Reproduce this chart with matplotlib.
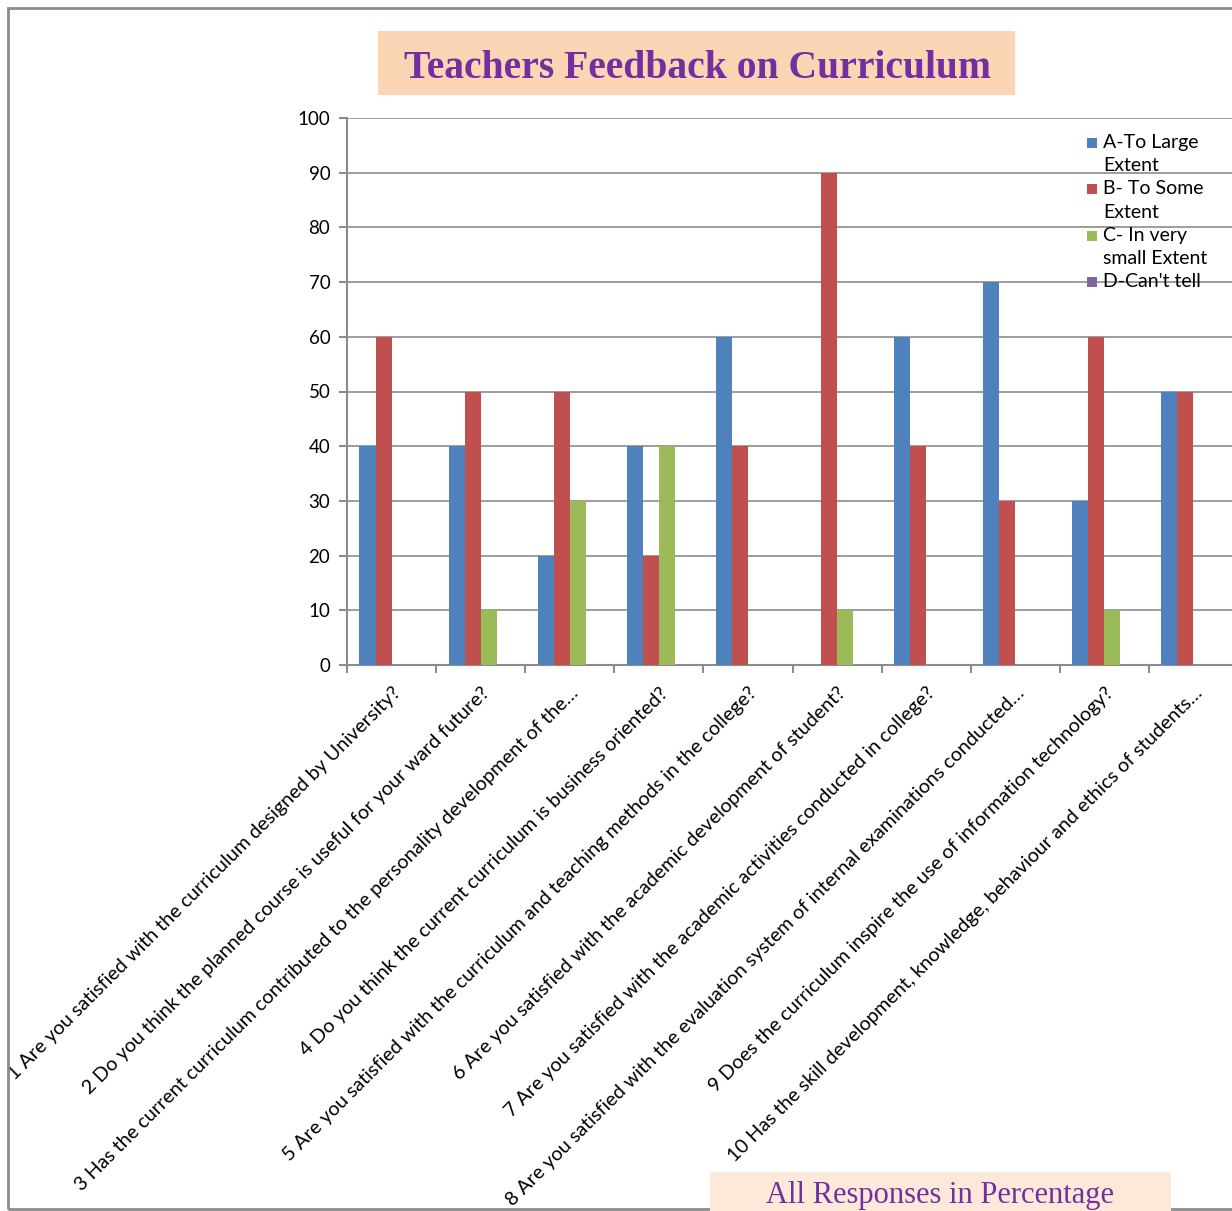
import numpy as np
import matplotlib.pyplot as plt
from matplotlib.patches import Rectangle

W, H = 1232, 1211

questions = [
    "1 Are you satisfied with the curriculum designed by University?",
    "2 Do you think the planned course is useful for your ward future?",
    "3 Has the current curriculum contributed to the personality development of the\u2026",
    "4 Do you think the current curriculum is business oriented?",
    "5 Are you satisfied with the curriculum and teaching methods in the college?",
    "6 Are you satisfied with the academic development of student?",
    "7 Are you satisfied with the academic activities conducted in college?",
    "8 Are you satisfied with the evaluation system of internal examinations conducted\u2026",
    "9 Does the curriculum inspire the use of information technology?",
    "10 Has the skill development, knowledge, behaviour and ethics of students\u2026",
]
large_extent = [40, 40, 20, 40, 60, 0, 60, 70, 30, 50]
some_extent = [60, 50, 50, 20, 40, 90, 40, 30, 60, 50]
small_extent = [0, 10, 30, 40, 0, 10, 0, 0, 10, 0]
cant_tell = [0, 0, 0, 0, 0, 0, 0, 0, 0, 0]

series_names = ["A-To Large\nExtent", "B- To Some\nExtent", "C- In very\nsmall Extent", "D-Can't tell"]
series_colors = ["#4F81BD", "#C0504D", "#9BBB59", "#8064A2"]
series = [large_extent, some_extent, small_extent, cant_tell]

label_font = "Lato"
grid_gray = "#8C8C8C"


def fx(x):
    return x / W


def fy(y):
    return 1 - y / H


fig = plt.figure(figsize=(W / 100, H / 100), dpi=100)

# outer chart border
fig.patches.append(Rectangle((fx(8), fy(1209)), fx(1240) - fx(8), fy(8) - fy(1209),
                             transform=fig.transFigure, fill=False,
                             edgecolor="#8C8C8C", linewidth=2))

ax = fig.add_axes([fx(347), fy(665), fx(1238) - fx(347), fy(118) - fy(665)])

x = np.arange(len(questions))
bar_w = 0.18
for k, (vals, color) in enumerate(zip(series, series_colors)):
    ax.bar(x + (k - 1.5) * bar_w, vals, width=bar_w, color=color, zorder=3)

ax.set_xlim(-0.5, len(questions) - 0.5)
ax.set_ylim(0, 100)
ax.set_yticks(np.arange(0, 101, 10))
ax.yaxis.grid(True, color=grid_gray, linewidth=1.2, zorder=0)
ax.set_axisbelow(True)

ax.set_xticks(np.arange(len(questions) + 1) - 0.5)
ax.set_xticklabels([])
ax.set_xticks(x, minor=True)
ax.set_xticklabels(questions, minor=True, rotation=45, ha="right",
                   rotation_mode="anchor", fontsize=14.2, family=label_font)
ax.tick_params(axis="x", which="minor", length=0, pad=14)
ax.tick_params(axis="x", which="major", length=6, width=1.5, color=grid_gray)
ax.tick_params(axis="y", length=6, width=1.5, color=grid_gray, labelsize=13.5, pad=6)
for lab in ax.get_yticklabels():
    lab.set_family(label_font)

for side in ["top", "right"]:
    ax.spines[side].set_visible(False)
for side in ["left", "bottom"]:
    ax.spines[side].set_color(grid_gray)
    ax.spines[side].set_linewidth(1.5)

# legend, drawn entry by entry so the swatch sits on the first line
for k, (name, color) in enumerate(zip(series_names, series_colors)):
    yc = 143 + 46.3 * k
    fig.patches.append(Rectangle((fx(1087), fy(yc + 5)), fx(10), fy(0) - fy(10),
                                 transform=fig.transFigure, facecolor=color,
                                 edgecolor="none", zorder=5))
    fig.text(fx(1103), fy(yc - 9), name, ha="left", va="top", fontsize=14,
             family=label_font, linespacing=1.45, zorder=5)

# title box
fig.patches.append(Rectangle((fx(378), fy(95)), fx(1015) - fx(378), fy(31) - fy(95),
                             transform=fig.transFigure, facecolor="#FCD5B5",
                             edgecolor="none"))
fig.text(fx(697), fy(68), "Teachers Feedback on Curriculum", ha="center", va="center",
         fontsize=28.5, fontweight="bold", family="Liberation Serif", color="#7030A0")

# axis caption box at the bottom
fig.patches.append(Rectangle((fx(710), fy(1215)), fx(1171) - fx(710), fy(1172) - fy(1215),
                             transform=fig.transFigure, facecolor="#FDE9D9",
                             edgecolor="none"))
fig.text(fx(940), fy(1196), "All Responses in Percentage", ha="center", va="center",
         fontsize=22, family="Liberation Serif", color="#7030A0")

fig.savefig("out.png", dpi=100)
